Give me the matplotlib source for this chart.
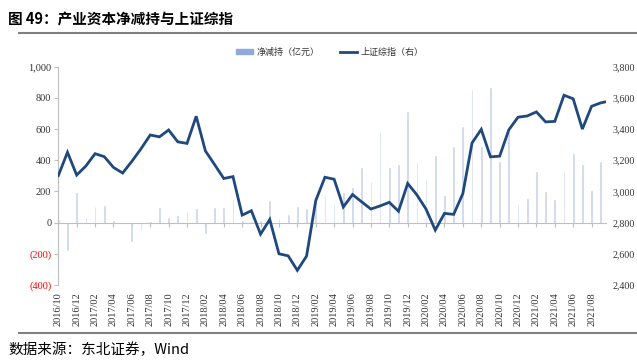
import numpy as np
import pandas as pd
import matplotlib
matplotlib.use("Agg")
import matplotlib.pyplot as plt
from matplotlib.patches import Patch
from matplotlib.lines import Line2D

# monthly categories 2016/10 .. 2021/09
months = [p.strftime("%Y/%m") for p in pd.period_range("2016-10", "2021-09", freq="M")]

# 产业资本净减持（亿元）
net_reduce = [15, -176, 188, 28, 102, 108, 8, -5, -118, -47,
              5, 92, 28, 40, 70, 87, -65, 92, 92, 154,
              10, 5, 12, 140, 20, 52, 97, 85, 160, 170,
              120, 188, 220, 348, 262, 573, 348, 369, 711, 380,
              273, 429, 173, 487, 615, 850, 487, 861, 390, 580,
              119, 151, 322, 198, 145, 322, 440, 369, 205, 387]

# 上证综指 month-end closes, plus the latest reading in the last month
szzs = [3101, 3251, 3105, 3163, 3242, 3223, 3154, 3118, 3193, 3274,
        3362, 3350, 3394, 3318, 3308, 3482, 3260, 3172, 3083, 3095,
        2848, 2876, 2726, 2820, 2600, 2587, 2494, 2585, 2941, 3091,
        3078, 2900, 2980, 2933, 2887, 2907, 2930, 2873, 3051, 2978,
        2886, 2752, 2859, 2853, 2986, 3311, 3398, 3222, 3226, 3395,
        3476, 3484, 3510, 3446, 3449, 3617, 3594, 3400, 3546, 3568]
szzs_last_date = "2021-09-18"
szzs_last = 3575

cjk = ["Noto Sans CJK SC", "DejaVu Sans"]
serif = "Liberation Serif"

x_bar = np.arange(len(months))
d = pd.Timestamp(szzs_last_date)
x_last = (d.year - 2016) * 12 + d.month - 10 + (d.day - 1) / d.days_in_month
x_line = np.append(x_bar, x_last)
y_line = szzs + [szzs_last]

fig = plt.figure(figsize=(6.37, 3.63), dpi=100)
ax = fig.add_axes([0.0915, 0.2149, 0.8598, 0.6014])
ax2 = ax.twinx()

ax.bar(x_bar, net_reduce, width=0.08, color="#c8d3ec", edgecolor="#c8d3ec",
       linewidth=0.4, zorder=2)
ax2.plot(x_line, y_line, color="#1f497d", lw=2, solid_joinstyle="miter")

ax.set_xlim(0, x_last)
ax.set_ylim(-400, 1000)
ax2.set_ylim(2400, 3800)

# left axis
yt = list(range(-400, 1001, 200))
ax.set_yticks(yt)
ax.set_yticklabels([f"{v:,}" if v >= 0 else f"({-v})" for v in yt],
                   fontfamily=serif, fontsize=7.5)
for t, v in zip(ax.get_yticklabels(), yt):
    t.set_color("red" if v < 0 else "#333333")
ax.tick_params(axis="y", length=3, color="#bfbfbf", pad=2)

for s in ["top", "right"]:
    ax.spines[s].set_visible(False)
ax.spines["left"].set_color("#bfbfbf")
ax.spines["bottom"].set_position(("data", 0))
ax.spines["bottom"].set_color("#bfbfbf")
ax.set_xticks(x_bar[::2])
ax.tick_params(axis="x", length=3, color="#bfbfbf", labelbottom=False)

# month labels at the bottom of the plot
sec = ax.secondary_xaxis("bottom")
sec.set_xticks(x_bar[::2], months[::2], rotation=90, fontfamily=serif, fontsize=7.5, color="#333333")
sec.tick_params(length=0, pad=5)
sec.spines["bottom"].set_visible(False)

# right axis
for s in ax2.spines.values():
    s.set_visible(False)
yt2 = list(range(2400, 3801, 200))
ax2.set_yticks(yt2)
ax2.set_yticklabels([f"{v:,}" for v in yt2], fontfamily=serif, fontsize=7.2, color="#333333")
ax2.tick_params(axis="y", length=0, pad=5)

handles = [Patch(color="#8eaadb"), Line2D([], [], color="#1f497d", lw=2)]
fig.legend(handles, ["净减持（亿元）", "上证综指（右）"], loc="center",
           bbox_to_anchor=(0.518, 1 - 52 / 363), ncol=2, frameon=False,
           prop={"family": cjk, "size": 6.5}, handlelength=1.9, handleheight=0.5,
           columnspacing=2.2, handletextpad=0.4, labelcolor="#333333")

fig.text(8 / 637, 1 - 19 / 363, "图 49：产业资本净减持与上证综指", family=cjk,
         fontsize=10.5, fontweight="bold", va="center", ha="left")
fig.add_artist(Line2D([0.03, 1], [1 - 33 / 363] * 2, color="#808080", lw=1.5))
fig.add_artist(Line2D([0.03, 1], [1 - 333 / 363] * 2, color="#808080", lw=1.5))
fig.text(8 / 637, 1 - 350 / 363, "数据来源：东北证券，Wind", family=cjk,
         fontsize=10.5, va="center", ha="left")

fig.savefig("out.png", dpi=100)
